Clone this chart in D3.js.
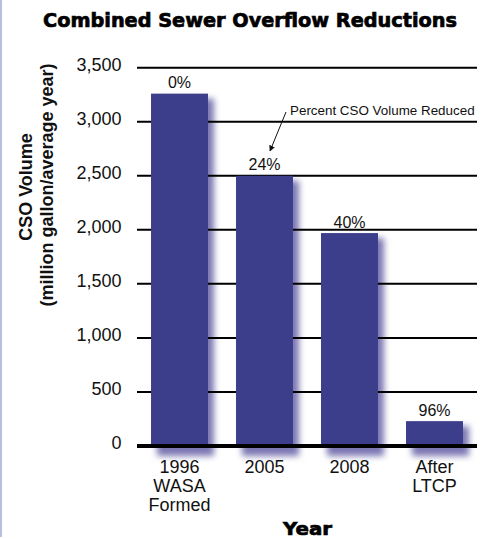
<!DOCTYPE html>
<html><head><meta charset="utf-8">
<script src="https://cdn.jsdelivr.net/npm/d3@7"></script>
<style>
body{margin:0;background:#fff;}
svg{display:block;}
</style></head>
<body>
<script>
const categories = [["1996","WASA","Formed"],["2005"],["2008"],["After","LTCP"]];
const values = [3260, 2500, 1970, 230];
const percentLabels = ["0%","24%","40%","96%"];
const yTicks = [0,500,1000,1500,2000,2500,3000,3500];
const title = "Combined Sewer Overflow Reductions";
const yTitle1 = "CSO Volume";
const yTitle2 = "(million gallon/average year)";
const xTitle = "Year";
const annotation = "Percent CSO Volume Reduced";

const W = 487, H = 539;
const svg = d3.select("body").append("svg").attr("width", W).attr("height", H);
const font = "'Liberation Sans', Arial, sans-serif";
const heavyFont = "'DejaVu Sans', sans-serif";

// left border
svg.append("rect").attr("x",0).attr("y",0).attr("width",2).attr("height",537).attr("fill","#b9bde2");

const x = d3.scaleBand().domain(d3.range(categories.length)).range([137, 477]).paddingInner(0.33).paddingOuter(0.165);
const y = d3.scaleLinear().domain([0, 3500]).range([446, 67.7]);

const defs = svg.append("defs");
const f = defs.append("filter").attr("id","blur").attr("x","-50%").attr("y","-50%").attr("width","200%").attr("height","200%");
f.append("feGaussianBlur").attr("stdDeviation", 3.2);

// title
svg.append("text").attr("x", 250).attr("y", 27.3).attr("text-anchor","middle")
  .attr("font-family", heavyFont).attr("font-weight", "bold").attr("font-size", 19)
  .attr("textLength", 414).attr("lengthAdjust","spacingAndGlyphs")
  .attr("stroke","#000").attr("stroke-width",0.7).attr("fill","#000").text(title);

// shadows
svg.append("g").selectAll("rect").data(values).join("rect")
  .attr("x", (d,i) => x(i) + 6).attr("y", d => y(d) + 5)
  .attr("width", x.bandwidth()).attr("height", d => y(0) - y(d) + 5)
  .attr("fill", "#7c77b2").attr("filter","url(#blur)");

// gridlines
svg.append("g").selectAll("line").data(yTicks.filter(t => t > 0)).join("line")
  .attr("x1", 137).attr("x2", 477).attr("y1", d => y(d)).attr("y2", d => y(d))
  .attr("stroke", "#000").attr("stroke-width", 2);

// bars
svg.append("g").selectAll("rect").data(values).join("rect")
  .attr("x", (d,i) => x(i)).attr("y", d => y(d))
  .attr("width", x.bandwidth()).attr("height", d => y(0) - y(d))
  .attr("fill", "#3d3e8b");

// baseline
svg.append("line").attr("x1",137).attr("x2",477).attr("y1", y(0)).attr("y2", y(0))
  .attr("stroke","#000").attr("stroke-width",4);

// y tick labels
svg.append("g").selectAll("text").data(yTicks).join("text")
  .attr("x", 121.5).attr("y", d => y(d) + 3).attr("text-anchor","end")
  .attr("font-family", font).attr("font-size", 18).attr("fill","#111")
  .text(d => d3.format(",")(d));

// percent labels
svg.append("g").selectAll("text").data(values).join("text")
  .attr("x", (d,i) => x(i) + x.bandwidth()/2).attr("y", d => y(d) - 5.5)
  .attr("text-anchor","middle").attr("font-family", font).attr("font-size", 16).attr("fill","#111")
  .text((d,i) => percentLabels[i]);

// x labels
const xl = svg.append("g").selectAll("text").data(categories).join("text")
  .attr("x", (d,i) => x(i) + x.bandwidth()/2).attr("y", 473)
  .attr("text-anchor","middle").attr("font-family", font).attr("font-size", 18).attr("fill","#111");
xl.selectAll("tspan").data(d => d).join("tspan")
  .attr("x", function(){ return this.parentNode.getAttribute("x"); })
  .attr("dy", (d,i) => i === 0 ? 0 : 19.2).text(d => d);

// x title
svg.append("text").attr("x", 307.5).attr("y", 535).attr("text-anchor","middle")
  .attr("font-family", heavyFont).attr("font-weight", "bold").attr("font-size", 18.5)
  .attr("textLength", 49).attr("lengthAdjust","spacingAndGlyphs")
  .attr("stroke","#000").attr("stroke-width",0.7).attr("fill","#000").text(xTitle);

// y titles
svg.append("text").attr("transform","translate(32,187) rotate(-90)").attr("text-anchor","middle")
  .attr("font-family", font).attr("font-weight","bold").attr("font-size", 18).attr("fill","#111").text(yTitle1);
svg.append("text").attr("transform","translate(53,185) rotate(-90)").attr("text-anchor","middle")
  .attr("font-family", font).attr("font-weight","bold").attr("font-size", 18).attr("fill","#111").text(yTitle2);

// annotation
svg.append("text").attr("x", 290).attr("y", 115).attr("font-family", font).attr("font-size", 13.4).attr("fill","#111").text(annotation);
const mk = defs.append("marker").attr("id","arrow").attr("viewBox","0 0 10 10").attr("refX",9).attr("refY",5)
  .attr("markerWidth",6).attr("markerHeight",6).attr("orient","auto");
mk.append("path").attr("d","M0,0 L10,5 L0,10 z").attr("fill","#111");
svg.append("line").attr("x1", 286).attr("y1", 112).attr("x2", 270).attr("y2", 151)
  .attr("stroke","#111").attr("stroke-width",1).attr("marker-end","url(#arrow)");
</script>
</body></html>
